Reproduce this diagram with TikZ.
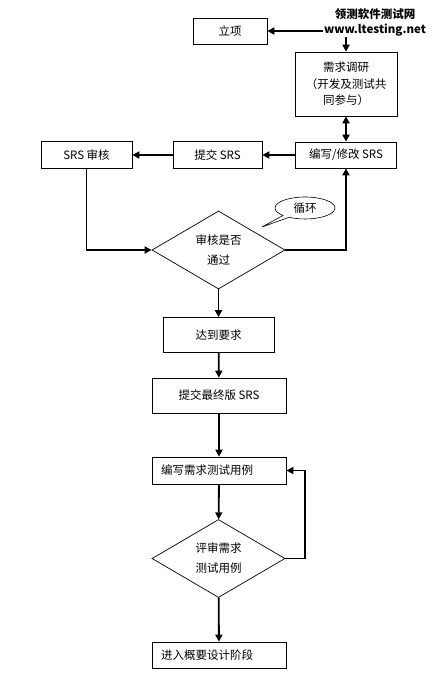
\documentclass[tikz,border=0pt]{standalone}
\usepackage{fontspec}
\setmainfont{Noto Sans CJK SC}
\usetikzlibrary{
	shapes.geometric,
	shapes.callouts,
	arrows.meta,
	positioning,
	calc
}

\begin{document}
\begin{tikzpicture}[x=1pt, y=-1pt,
				box/.style={
					rectangle, draw, line width=0.7pt, inner sep=0pt,
					minimum width=74pt, minimum height=26pt,
					align=center, font=\fontsize{11.5}{16.5}\selectfont
				},
				widebox/.style={
					box, minimum width=134pt, text width=116pt, inner xsep=9pt, align=left
				},
				check/.style={
					diamond, draw, line width=0.7pt, inner sep=0pt, aspect=1.73,
					minimum width=133pt, minimum height=78pt,
					align=center, font=\fontsize{11.5}{20}\selectfont
				},
				arrow/.style={-{Triangle[length=7pt,width=7pt]}, line width=1.8pt},
				dblarrow/.style={arrow, {Triangle[length=7pt,width=7pt]}-{Triangle[length=7pt,width=7pt]}},
				logo/.style={
					align=center, fill=white, inner sep=1pt,
					font=\bfseries\fontsize{11.5}{15}\selectfont
				},
				]
				\useasboundingbox (0,0) rectangle (437,695);
				
				%top
				\node[box] (start) at (230,31) {立项};
				\node[box, minimum width=102pt, minimum height=64pt] (study) at (346,84) {需求调研\\（开发及测试共\\同参与）};
				\draw [dblarrow] (start) -| (study);
				
				%SRS row
				\node[box, minimum width=101pt] (write) at (346,155) {编写/修改 SRS};
				\draw [dblarrow] (study) -- (write);
				
				\node (submit) at (217.5,155) [box, minimum width=89pt, minimum height=27pt] {提交 SRS};
				\draw [arrow] (write) -- (submit);
				
				\node (review) at (86.5,155) [box, minimum width=91pt, minimum height=27pt] {SRS 审核};
				\draw [arrow] (submit) -- (review);
				
				%check
				\node (pass) at (submit |- review) [check, xshift=1pt, yshift=-95pt] {审核是否\\通过};
				\draw [arrow] (review) |- (pass);
				\draw [arrow] (pass) -| (write);
				
				\node[ellipse callout, draw, fill=white, line width=0.6pt, inner sep=0pt,
					minimum width=60pt, minimum height=22pt,
					font=\fontsize{11.5}{14}\selectfont,
					callout absolute pointer={(262,227)}] (loop) at (305,208) {循环};
				
				%final SRS
				\node (done) at (pass |- pass) [box, minimum width=111pt, minimum height=35pt, yshift=-85pt] {达到要求};
				\draw [arrow] (pass) -- (done);
				
				\node (final) at (219,395.5) [box, minimum width=134pt, minimum height=35pt] {提交最终版 SRS};
				\draw [arrow] (done) -- (final);
				
				%test cases
				\node (cases) at (final |- final) [widebox, minimum height=27pt, yshift=-75pt] {编写需求测试用例};
				\draw [arrow] (final) -- (cases);
				
				\node (casecheck) at (218.5,558.5) [check] {评审需求\\测试用例};
				\draw [arrow] (cases) -- (casecheck);
				\draw [arrow] (casecheck.east) -- ++(20,0) |- (cases.east);
				
				\node (design) at (219,655) [widebox] {进入概要设计阶段};
				\draw [arrow] (casecheck) -- (design);
				
				\node[logo] (site) at (375,22) {领测软件测试网\\www.ltesting.net};
			\end{tikzpicture}
\end{document}
